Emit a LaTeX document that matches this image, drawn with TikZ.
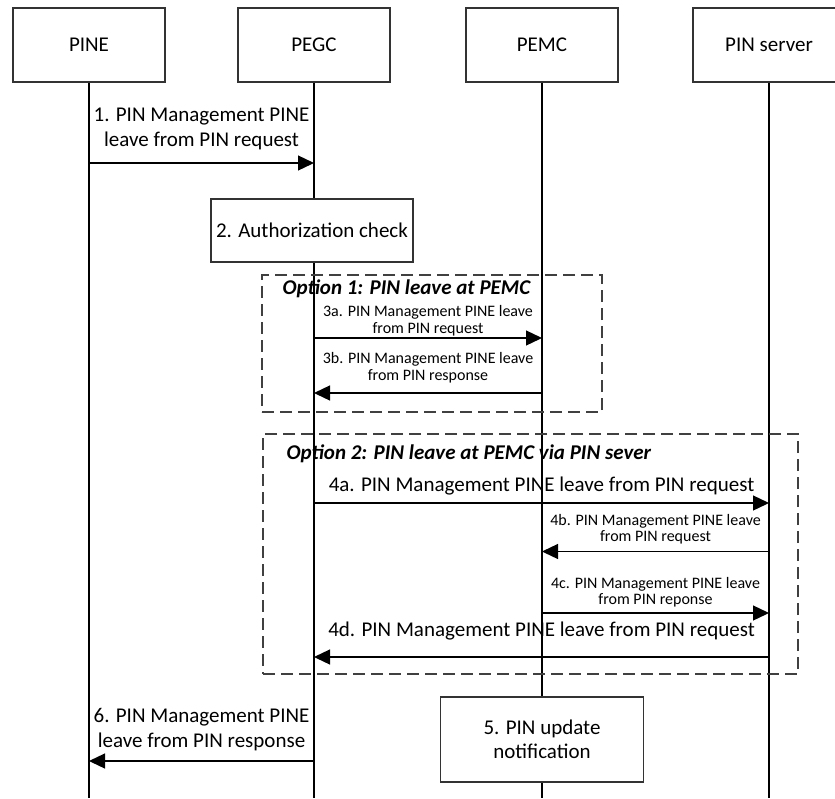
\documentclass[tikz,border=0pt]{standalone}
\usepackage{fontspec}
\setmainfont{Carlito}
\usetikzlibrary{arrows.meta,positioning}
\begin{document}
\begin{tikzpicture}[x=1pt, y=-1pt, line width=1.3pt,
	actor/.style = {draw=black!80, minimum width=152pt, minimum height=74pt, font=\fontsize{21}{24.5}\selectfont},
	stepbox/.style = {draw=black!80, fill=white, align=center, font=\fontsize{21}{24.5}\selectfont},
	optbox/.style = {draw=black!75, dash pattern=on 12pt off 6pt},
	title/.style = {inner sep=0pt, anchor=base west, font=\fontsize{21}{24}\selectfont\bfseries\itshape},
	big/.style = {inner sep=0pt, align=center, font=\fontsize{21}{24.5}\selectfont},
	small/.style = {inner sep=0pt, align=center, font=\fontsize{16}{16.5}\selectfont},
	msg/.style = {-{Triangle[length=16pt,width=15pt]}}]
	\useasboundingbox (0,0) rectangle (835,798);
	% participants
	\node[actor] (pine) at (89,45) {PINE};
	\node[actor] (pegc) at (314,45) {PEGC};
	\node[actor] (pemc) at (542,45) {PEMC};
	\node[actor] (pinsrv) at (769,45) {PIN server};
	\coordinate (end) at (0,798);
	\draw (pine.south) -- (pine.south |- end);
	\draw (pegc.south) -- (pegc.south |- end);
	\draw (pemc.south) -- (pemc.south |- end);
	\draw (pinsrv.south) -- (pinsrv.south |- end);
	% option frames
	\node[optbox, minimum width=340pt, minimum height=137pt] (opt1) at (432,343.5) {};
	\node[optbox, minimum width=535pt, minimum height=240pt] (opt2) at (530.5,554) {};
	\node[title] (t1) at (282,294) {Option 1: PIN leave at PEMC};
	\node[title] (t2) at (286,459) {Option 2: PIN leave at PEMC via PIN sever};
	% steps
	\node[stepbox, minimum width=202pt, minimum height=63pt] (auth) at (312,230.5) {2. Authorization check};
	\node[stepbox, minimum width=203pt, minimum height=85pt] (upd) at (542,739.5) {5. PIN update\\notification};
	% messages
	\coordinate (m1) at (0,163);
	\coordinate (m3a) at (0,338);
	\coordinate (m3b) at (0,393);
	\coordinate (m4a) at (0,503);
	\coordinate (m4b) at (0,551.5);
	\coordinate (m4c) at (0,613);
	\coordinate (m4d) at (0,657);
	\coordinate (m6) at (0,761);
	\draw[msg] (pine |- m1) -- node[big, above=12.8pt] (l1) {1. PIN Management PINE\\leave from PIN request} (pegc |- m1);
	\draw[msg] (pegc |- m3a) -- node[small, above=1.4pt] (l3a) {3a. PIN Management PINE leave\\from PIN request} (pemc |- m3a);
	\draw[msg] (pemc |- m3b) -- node[small, above=9.7pt] (l3b) {3b. PIN Management PINE leave\\from PIN response} (pegc |- m3b);
	\draw[msg] (pegc |- m4a) -- node[big, above=7.4pt] (l4a) {4a. PIN Management PINE leave from PIN request} (pinsrv |- m4a);
	\draw[msg] (pinsrv |- m4b) -- node[small, above=6.7pt] (l4b) {4b. PIN Management PINE leave\\from PIN request} (pemc |- m4b);
	\draw[msg] (pemc |- m4c) -- node[small, above=5pt] (l4c) {4c. PIN Management PINE leave\\from PIN reponse} (pinsrv |- m4c);
	\draw[msg] (pinsrv |- m4d) -- node[big, above=15.8pt] (l4d) {4d. PIN Management PINE leave from PIN request} (pegc |- m4d);
	\draw[msg] (pegc |- m6) -- node[big, above=9.8pt] (l6) {6. PIN Management PINE\\leave from PIN response} (pine |- m6);
\end{tikzpicture}
\end{document}
